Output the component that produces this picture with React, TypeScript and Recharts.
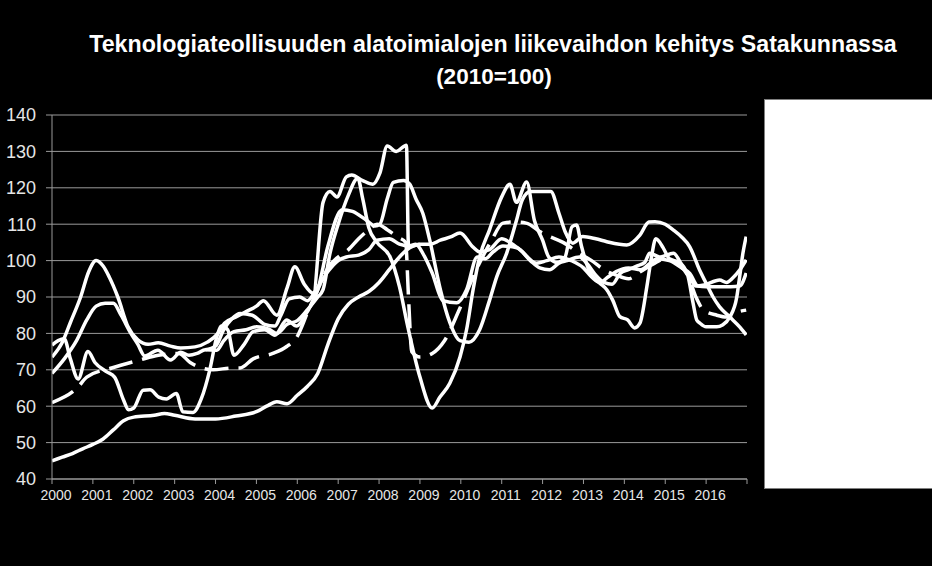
import React from "react";
import { LineChart, Line, XAxis, YAxis, CartesianGrid } from "recharts";

// time in years (2000.0 = start of Jan 2000), value index 2010=100
const bottomLine: [number, number][] = [
  [2000, 45], [2000.25, 46], [2000.5, 47], [2000.75, 48.3], [2001.0, 49.5], [2001.25, 51], [2001.5, 53.5],
  [2001.75, 56], [2002.0, 57], [2002.5, 57.5], [2002.75, 58], [2003.0, 57.5], [2003.5, 56.5], [2004.0, 56.5],
  [2004.5, 57.3], [2005.0, 58.5], [2005.25, 60], [2005.5, 61.2], [2005.75, 60.7], [2006.0, 63], [2006.25, 65.5],
  [2006.5, 69], [2006.75, 77], [2007.0, 84], [2007.25, 88], [2007.5, 90], [2007.75, 91.5], [2008.0, 94],
  [2008.25, 97.5], [2008.5, 101], [2008.75, 103.5], [2009.0, 104.5], [2009.25, 104.5], [2009.5, 105.6],
  [2009.75, 106.5], [2009.98, 107.6], [2010.3, 103.7], [2010.46, 102.4], [2010.7, 103], [2011.0, 106],
  [2011.2, 105], [2011.45, 103], [2011.85, 99.3], [2012.1, 100], [2012.4, 101], [2012.7, 100], [2013.0, 98],
  [2013.2, 95.5], [2013.4, 94], [2013.6, 95.5], [2013.8, 97], [2014.1, 98], [2014.4, 97.5], [2014.6, 99],
  [2014.8, 100.5], [2015.1, 100], [2015.4, 98], [2015.6, 96.5], [2015.8, 93], [2016.0, 92.8], [2016.3, 92.8],
  [2016.6, 92.8], [2016.82, 93], [2016.98, 96.6],
];

const peakLine: [number, number][] = [
  [2000, 73.5], [2000.25, 77.5], [2000.45, 83], [2000.7, 90], [2000.9, 97], [2001.08, 100], [2001.25, 98.5],
  [2001.4, 95.5], [2001.61, 90], [2001.86, 81.8], [2002.1, 78.2], [2002.35, 77], [2002.6, 77.4], [2002.9, 76.5],
  [2003.15, 76], [2003.5, 76.3], [2003.8, 77.6], [2004.06, 80], [2004.22, 82.8], [2004.5, 84.5], [2004.75, 86],
  [2005.0, 87.5], [2005.17, 89], [2005.5, 85], [2005.75, 92.5], [2005.94, 98.3], [2006.17, 93.5], [2006.39, 91],
  [2006.63, 116], [2006.8, 119], [2006.97, 117.5], [2007.2, 123], [2007.33, 123.5], [2007.6, 122],
  [2007.85, 121], [2008.02, 124], [2008.2, 131.5], [2008.42, 130], [2008.67, 131.7], [2008.72, 104],
  [2008.9, 104.5], [2009.07, 102], [2009.3, 96.6], [2009.56, 89], [2009.9, 88.4], [2010.14, 92], [2010.4, 101],
  [2010.6, 100.5], [2010.8, 102.5], [2011.03, 104], [2011.37, 103.5], [2011.7, 100], [2011.93, 98],
  [2012.17, 97.5], [2012.4, 99.3], [2012.6, 100], [2012.9, 101], [2013.1, 99], [2013.3, 96], [2013.5, 94],
  [2013.7, 93.5], [2013.9, 96.5], [2014.1, 97.5], [2014.3, 98.5], [2014.5, 99.5], [2014.62, 102],
  [2014.87, 101], [2015.2, 102], [2015.43, 98.3], [2015.6, 95.5], [2015.75, 93], [2015.95, 93.3],
  [2016.33, 94.7], [2016.5, 94], [2016.65, 95.2], [2016.82, 97.4], [2016.98, 100.2],
];

const lowLine: [number, number][] = [
  [2000, 76.8], [2000.15, 78], [2000.3, 78.5], [2000.45, 73], [2000.64, 67.5], [2000.88, 75], [2001.05, 72],
  [2001.33, 69.5], [2001.53, 68], [2001.75, 61.7], [2001.87, 59], [2002.0, 59.5], [2002.23, 64.4],
  [2002.4, 64.5], [2002.61, 62.5], [2002.8, 62], [2003.04, 63.5], [2003.2, 58.5], [2003.45, 58.3],
  [2003.65, 62], [2003.86, 70], [2004.03, 79], [2004.15, 82], [2004.3, 81], [2004.45, 74], [2004.7, 77],
  [2004.92, 80.5], [2005.2, 81], [2005.45, 79.5], [2005.74, 83.7], [2005.98, 82], [2006.23, 85.7],
  [2006.5, 92], [2006.75, 104], [2007.1, 114], [2007.35, 113.5], [2007.7, 111], [2007.9, 109.5],
  [2008.02, 110], [2008.2, 117], [2008.35, 121.5], [2008.6, 122], [2008.75, 121], [2008.9, 117],
  [2009.07, 113], [2009.24, 105.6], [2009.5, 92], [2009.73, 83], [2009.98, 78], [2010.2, 77.6],
  [2010.46, 81], [2010.7, 89], [2010.88, 95.6], [2011.12, 102], [2011.36, 111], [2011.5, 116.6],
  [2011.7, 119], [2012.2, 119], [2012.4, 113], [2012.55, 108], [2012.74, 104.8], [2012.98, 106.6],
  [2013.3, 106], [2013.57, 105.2], [2014.06, 104.3], [2014.38, 107], [2014.6, 110.6], [2014.75, 110.7],
  [2015.0, 110], [2015.2, 108.4], [2015.4, 106.5], [2015.6, 103.8], [2015.84, 97.4], [2016.0, 93.8],
  [2016.17, 90], [2016.33, 87.3], [2016.58, 84.5], [2016.82, 81.8], [2016.98, 79.6],
];

const vLine: [number, number][] = [
  [2000, 69], [2000.3, 73], [2000.6, 78], [2000.85, 83.7], [2001.08, 87.5], [2001.3, 88.3], [2001.5, 88.3],
  [2001.69, 85], [2001.93, 80], [2002.1, 77], [2002.27, 73.8], [2002.59, 75.4], [2002.9, 72.7],
  [2003.15, 74.8], [2003.35, 74], [2003.55, 74.5], [2003.75, 75.5], [2004.03, 75.4], [2004.2, 78],
  [2004.45, 80.5], [2004.75, 81], [2005.0, 81.8], [2005.3, 81.2], [2005.5, 80], [2005.75, 82.5],
  [2006.0, 83.5], [2006.25, 86.5], [2006.5, 90], [2006.63, 92], [2006.8, 102], [2007.0, 110],
  [2007.25, 118], [2007.48, 122.6], [2007.6, 117], [2007.75, 109], [2007.95, 105], [2008.27, 101],
  [2008.5, 92.8], [2008.7, 82], [2009.0, 68], [2009.3, 59.5], [2009.49, 62.5], [2009.73, 66.3],
  [2009.98, 73.5], [2010.14, 81], [2010.3, 92], [2010.46, 101], [2010.7, 108.4], [2011.0, 117.5],
  [2011.2, 121], [2011.36, 116], [2011.61, 121.6], [2011.8, 111], [2012.0, 105.6], [2012.15, 101],
  [2012.35, 99.5], [2012.55, 101], [2012.72, 109.3], [2012.83, 109.8], [2012.95, 104], [2013.15, 97],
  [2013.4, 93.8], [2013.57, 92], [2013.72, 89], [2013.89, 84.6], [2014.08, 83.7], [2014.25, 81.5],
  [2014.38, 82.8], [2014.55, 92.8], [2014.65, 100], [2014.77, 106], [2014.95, 103.5], [2015.1, 100.5],
  [2015.35, 99.5], [2015.55, 96], [2015.68, 88.4], [2015.77, 83.7], [2015.85, 82.8], [2016.0, 81.8],
  [2016.26, 81.8], [2016.4, 82.3], [2016.58, 84.5], [2016.75, 90], [2016.82, 95.5], [2016.9, 102],
  [2016.98, 106.6],
];

const middleLine: [number, number][] = [
  [2003.75, 75.5], [2004.0, 76.5], [2004.2, 81], [2004.4, 84], [2004.6, 85.5], [2004.9, 85], [2005.2, 82.5],
  [2005.45, 82], [2005.6, 85], [2005.8, 89.5], [2006.06, 90], [2006.25, 89], [2006.46, 92], [2006.75, 97],
  [2007.0, 100], [2007.2, 101], [2007.5, 101.5], [2007.75, 103], [2007.95, 105.6], [2008.25, 106],
  [2008.5, 104.5], [2008.75, 104], [2009.0, 104.5],
];

const dashedLine: [number, number][] = [
  [2000, 61], [2000.64, 65.3], [2000.85, 68], [2001.46, 70.5], [2002.15, 72.7], [2002.6, 74], [2003.1, 74.5],
  [2003.38, 72], [2003.94, 70], [2004.4, 70.5], [2004.6, 70.5], [2004.92, 73], [2005.4, 74.5],
  [2005.74, 76.4], [2005.99, 79], [2006.26, 86], [2006.5, 92], [2006.75, 98], [2007.0, 101], [2007.25, 103],
  [2007.5, 106], [2007.75, 108.5], [2007.95, 110], [2008.2, 108.5], [2008.45, 106.5], [2008.65, 105],
  [2008.72, 90], [2008.8, 75], [2009.0, 73.5], [2009.3, 74.5], [2009.6, 78], [2009.98, 87], [2010.4, 98],
  [2010.75, 105.5], [2011.03, 110.3], [2011.3, 110.6], [2011.6, 110.3], [2011.93, 108], [2012.1, 107],
  [2012.5, 105], [2012.9, 102], [2013.2, 100], [2013.5, 97.5], [2013.8, 96], [2014.1, 95], [2014.4, 97],
  [2014.7, 99], [2015.0, 100.5], [2015.3, 99], [2015.55, 96], [2015.75, 90], [2015.93, 86.5],
  [2016.26, 85], [2016.5, 84.5], [2016.75, 85.8], [2016.98, 86.4],
];

const yearTicks = [2000, 2001, 2002, 2003, 2004, 2005, 2006, 2007, 2008, 2009, 2010, 2011, 2012, 2013, 2014, 2015, 2016, 2017];
const yearLabels = ["2000", "2001", "2002", "2003", "2004", "2005", "2006", "2007", "2008", "2009", "2010", "2011", "2012", "2013", "2014", "2015", "2016", ""];
const valueTicks = [40, 50, 60, 70, 80, 90, 100, 110, 120, 130, 140];

const titleLine1 = "Teknologiateollisuuden alatoimialojen liikevaihdon kehitys Satakunnassa";
const titleLine2 = "(2010=100)";

const toRows = (pts: [number, number][]) => pts.map(([t, v]) => ({ t, v }));

const solidSeries = [bottomLine, peakLine, lowLine, vLine, middleLine];

if (typeof document !== "undefined") {
  document.body.style.margin = "0";
  document.body.style.background = "#000";
}

const titleFont = "'Liberation Sans', Arial, sans-serif";

export default function App() {
  return (
    <div style={{ position: "relative", width: 932, height: 566, background: "#000", overflow: "hidden" }}>
      <svg width={932} height={100} style={{ position: "absolute", left: 0, top: 0 }}>
        <text x={493} y={52} textAnchor="middle" fill="#fff" fontFamily={titleFont} fontWeight="bold" fontSize={23.2}>
          {titleLine1}
        </text>
        <text x={494} y={84} textAnchor="middle" fill="#fff" fontFamily={titleFont} fontWeight="bold" fontSize={22.5}>
          {titleLine2}
        </text>
      </svg>
      <div style={{ position: "absolute", left: 0, top: 0 }}>
        <LineChart width={932} height={566} margin={{ top: 115, right: 185, bottom: 57, left: 0 }}>
          <CartesianGrid vertical={false} stroke="#9a9a9a" strokeWidth={1} />
          <XAxis
            dataKey="t"
            type="number"
            domain={[2000, 2017]}
            ticks={yearTicks}
            tickFormatter={(v: number) => yearLabels[yearTicks.indexOf(v)] ?? ""}
            height={30}
            stroke="#9a9a9a"
            tickSize={5}
            tickMargin={6}
            dx={4}
            tick={{ fill: "#e6e6e6", fontSize: 14, fontFamily: "'Liberation Sans', Arial, sans-serif" }}
            allowDataOverflow
          />
          <YAxis
            type="number"
            domain={[40, 140]}
            ticks={valueTicks}
            width={52}
            stroke="#9a9a9a"
            tickSize={6}
            tickMargin={10}
            tick={{ fill: "#e6e6e6", fontSize: 18, fontFamily: "'Liberation Sans', Arial, sans-serif" }}
            allowDataOverflow
          />
          {solidSeries.map((s, i) => (
            <Line
              key={i}
              data={toRows(s)}
              dataKey="v"
              type="monotone"
              stroke="#fff"
              strokeWidth={3.5}
              dot={false}
              isAnimationActive={false}
            />
          ))}
          <Line
            data={toRows(dashedLine)}
            dataKey="v"
            type="monotone"
            stroke="#fff"
            strokeWidth={3.5}
            strokeDasharray="24 10"
            dot={false}
            isAnimationActive={false}
          />
        </LineChart>
      </div>
      <div
        style={{
          position: "absolute",
          left: 764,
          top: 99,
          width: 167,
          height: 388,
          background: "#fff",
          border: "1px solid #7f7f7f",
        }}
      />
    </div>
  );
}
